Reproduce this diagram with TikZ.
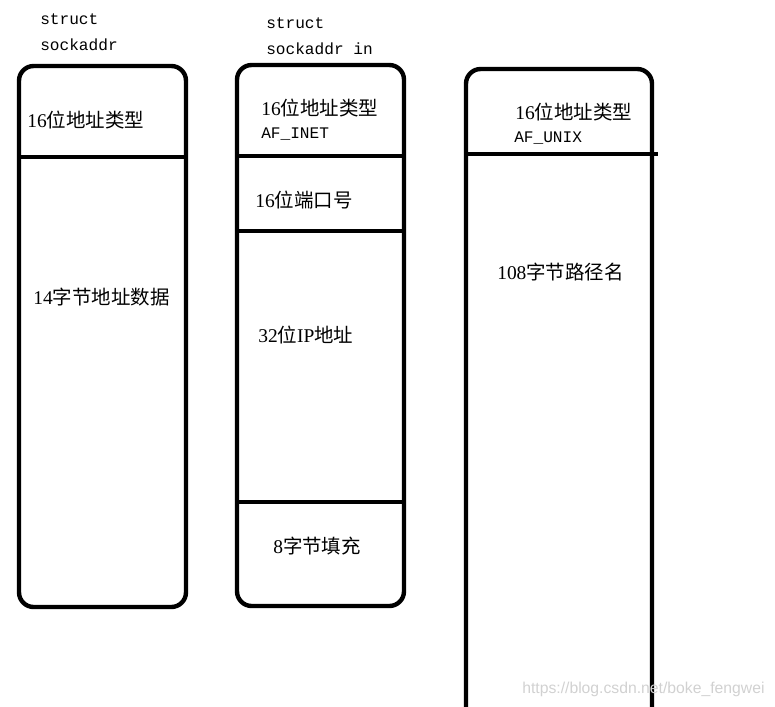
\documentclass[tikz,border=0pt]{standalone}
\usepackage{fontspec}
\setmainfont{Liberation Serif}
\setmonofont{Liberation Mono}
\setsansfont{Liberation Sans}
\newfontfamily\cjk{Noto Sans CJK SC}[FakeStretch=1.0]
\newcommand{\zh}[1]{{\cjk #1}}
\begin{document}
\begin{tikzpicture}[x=0.75pt,y=-0.75pt,
  boxline/.style={line width=3.3pt, rounded corners=11pt},
  divline/.style={line width=3.3pt},
  lbl/.style={anchor=west, inner sep=0pt, font=\fontsize{14.6pt}{16pt}\selectfont},
  code/.style={anchor=west, inner sep=0pt, font=\fontsize{12.1pt}{14pt}\selectfont\ttfamily},
  wmark/.style={anchor=west, inner sep=0pt, text=black!18, font=\fontsize{11.8pt}{13pt}\selectfont\sffamily}]
\useasboundingbox (0,0) rectangle (775,707);
% box 1
\draw[boxline] (19,66) rectangle (186,607);
\draw[divline] (19,157) -- (188,157);
% box 2
\draw[boxline] (237,65) rectangle (404,606);
\draw[divline] (237,156) -- (405,156);
\draw[divline] (237,231) -- (405,231);
\draw[divline] (237,502) -- (405,502);
% box 3 (open at bottom)
\draw[boxline] (466,712) -- (466,69) -- (652,69) -- (652,712);
\draw[divline] (464,154) -- (658,154);
% titles
\node[code] (t1a) at (40,19) {struct};
\node[code] (t1b) at (40,45) {sockaddr};
\node[code] (t2a) at (266,23) {struct};
\node[code] (t2b) at (266,49) {sockaddr in};
% box 1 labels
\node[lbl] (b1a) at (27,120) {16\zh{位地址类型}};
\node[lbl] (b1b) at (33,297) {14\zh{字节地址数据}};
% box 2 labels
\node[lbl] (b2a) at (261,108) {16\zh{位地址类型}};
\node[code] (b2b) at (261,134) {AF\_INET};
\node[lbl] (b2c) at (255,200) {16\zh{位端口号}};
\node[lbl] (b2d) at (258,335) {32\zh{位}IP\zh{地址}};
\node[lbl] (b2e) at (273,546) {8\zh{字节填充}};
% box 3 labels
\node[lbl] (b3a) at (515,112) {16\zh{位地址类型}};
\node[code] (b3b) at (514,138) {AF\_UNIX};
\node[lbl] (b3c) at (497,272) {108\zh{字节路径名}};
% watermark
\node[wmark] (wm) at (522,689) {https://blog.csdn.net/boke\_fengwei};
\end{tikzpicture}
\end{document}
